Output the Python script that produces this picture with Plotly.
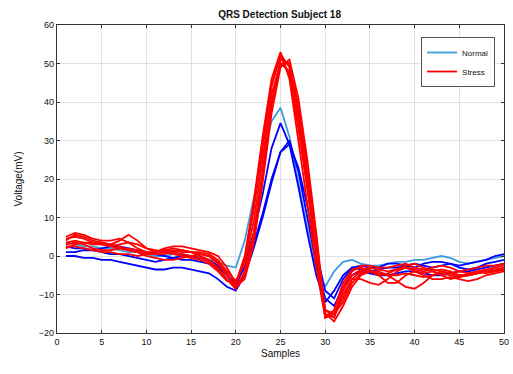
import plotly.graph_objects as go

samples = list(range(1, 51))

normal_1 = [3.5, 3.0, 2.5, 2.5, 2.0, 2.0, 1.5, 1.0, 1.0, 0.5,
            0.0, 0.0, 0.5, 0.5, 0.0, -0.5, -1.0, -1.5, -2.5, -3.0,
            4, 15, 26, 35, 38.5, 31, 19, 7, -3, -8,
            -4, -1.5, -1.0, -2.0, -2.5, -2.5, -2.0, -1.5, -1.5, -1.0,
            -1.0, -0.5, 0.0, -0.5, -1.5, -2.0, -1.5, -1.0, -0.5, 0.0]
normal_2 = [1.0, 1.0, 1.5, 1.5, 1.0, 0.5, 0.5, 0.0, -0.5, -1.0,
            -1.5, -1.0, -0.5, 0.0, 0.0, -0.5, -1.0, -2.5, -5.0, -8.0,
            -2, 6, 16, 28, 34.5, 29, 18, 6, -5, -12,
            -9, -5, -3, -3.5, -4, -3.5, -3, -3, -2.5, -2,
            -2.5, -3, -2.5, -2, -3, -3.5, -3, -2, -1.5, -1]
normal_3 = [0.0, 0.0, -0.5, -0.5, -1.0, -1.0, -1.5, -2.0, -2.5, -3.0,
            -3.5, -3.5, -3.0, -3.0, -3.5, -4.0, -4.5, -6.0, -8.0, -9.0,
            -5, 2, 10, 19, 27, 30, 22, 10, -2, -11,
            -13, -8, -5, -4, -4.5, -5, -5, -4.5, -4, -4,
            -4.5, -5, -5, -4.5, -4, -4, -3.5, -3, -2.5, -2]
normal_4 = [2.5, 2.0, 2.0, 1.5, 2.0, 2.5, 2.5, 2.0, 1.5, 1.0,
            0.5, 0.0, -0.5, -1.0, -1.0, -1.5, -2.0, -3.0, -5.0, -7.0,
            -3, 3, 11, 20, 27, 29, 23, 13, 1, -9,
            -11, -6, -3, -2.5, -3, -3, -2, -2, -2.5, -3,
            -2, -1.5, -1.5, -2, -2.5, -2, -1.5, -1, 0, 0.5]

stress_1 = [4.0, 5.5, 5.0, 4.0, 3.5, 3.0, 4.0, 5.5, 4.0, 2.0,
            1.0, 1.5, 2.0, 1.5, 1.0, 0.5, 0.0, -2.0, -5.0, -7.5,
            -1, 12, 28, 44, 52, 47, 33, 17, 1, -14,
            -15, -9, -5, -3.5, -3, -3.5, -4, -3.5, -3, -4,
            -4.5, -4, -3.5, -4, -5, -5, -4.5, -4, -3.5, -3]
stress_2 = [3.5, 4.0, 3.5, 3.0, 3.0, 2.5, 2.0, 2.0, 1.5, 1.0,
            0.5, 0.5, 1.0, 1.5, 1.0, 0.0, -1.0, -3.0, -6.0, -8.5,
            -4, 6, 22, 40, 51, 50, 38, 22, 4, -16,
            -15, -11, -6, -4, -3.5, -5, -7, -7, -5, -4,
            -5, -6, -6, -5.5, -6, -6.5, -6, -5, -4.5, -4]
stress_3 = [2.0, 3.0, 3.5, 3.5, 3.0, 2.5, 3.0, 3.5, 3.0, 2.0,
            1.5, 1.0, 0.5, 0.0, -0.5, -1.0, -2.0, -4.0, -6.5, -7.0,
            0, 14, 31, 46, 53, 46, 30, 13, -3, -16,
            -14, -7, -3.5, -3, -4, -5, -4.5, -3.5, -2.5, -2,
            -3, -4, -5, -6, -5.5, -4.5, -4, -4.5, -4, -3.5]
stress_4 = [4.5, 5.0, 4.5, 3.5, 3.5, 3.0, 2.5, 1.5, 1.0, 0.5,
            0.5, 1.0, 1.5, 1.0, 1.0, 1.0, 0.5, -1.0, -4.0, -6.5,
            -2, 9, 25, 42, 50, 48, 36, 20, 2, -14,
            -16, -10, -6, -6, -7, -7.5, -6, -4, -3, -3.5,
            -4, -3.5, -4, -4.5, -4, -3.5, -3, -2.5, -2.5, -2]
stress_5 = [3.0, 3.5, 3.0, 2.0, 1.5, 1.5, 2.0, 1.5, 1.0, 0.0,
            -0.5, -1.0, -1.0, -0.5, 0.0, 0.5, 0.0, -1.5, -4.5, -8.0,
            -6, 3, 19, 37, 49, 51, 41, 25, 6, -15,
            -17, -13, -8, -5, -4, -4, -5, -6.5, -8, -8.5,
            -7, -5, -4, -4.5, -5, -5, -4.5, -4, -3.5, -3.5]
stress_6 = [5.0, 6.0, 5.5, 4.5, 4.0, 4.0, 4.5, 3.5, 2.0, 1.0,
            1.0, 2.0, 2.5, 2.5, 2.0, 1.5, 1.0, 0.0, -3.0, -7.0,
            -1, 13, 30, 45, 52.5, 49, 35, 18, 0, -15,
            -16, -8, -4, -2.5, -2.5, -3, -3, -2.5, -2, -3,
            -3.5, -3, -2.5, -3, -4, -4.5, -4, -3.5, -3, -2.5]
stress_7 = [2.5, 2.5, 2.0, 1.5, 1.0, 1.0, 0.5, 0.5, 0.0, 0.5,
            1.0, 1.5, 1.0, 0.5, 0.0, -0.5, -1.5, -3.5, -6.0, -8.5,
            -5, 5, 21, 39, 50, 50, 39, 23, 5, -16,
            -15, -12, -7, -4.5, -4, -4.5, -5, -5, -4.5, -5,
            -5.5, -5, -4.5, -5, -5.5, -5, -4.5, -4, -4, -3.5]

normal_series = [normal_1, normal_2, normal_3, normal_4]
normal_colors = ["#3d9be0", "#0000ff", "#0000ff", "#0000ff"]
stress_series = [stress_1, stress_2, stress_3, stress_4, stress_5, stress_6, stress_7]

fig = go.Figure()
for i, (ys, col) in enumerate(zip(normal_series, normal_colors)):
    fig.add_trace(go.Scatter(x=samples, y=ys, mode="lines", name="Normal",
                             legendgroup="normal", showlegend=(i == 0),
                             line=dict(color=col, width=1.8)))
for i, ys in enumerate(stress_series):
    fig.add_trace(go.Scatter(x=samples, y=ys, mode="lines", name="Stress",
                             legendgroup="stress", showlegend=(i == 0),
                             line=dict(color="#ff0000", width=1.8)))

axis_common = dict(showline=True, mirror="allticks", linecolor="#333333", linewidth=1.2,
                   ticks="inside", ticklen=3, tickcolor="#333333",
                   showgrid=True, gridcolor="#e0e0e0", gridwidth=1, zeroline=False,
                   ticklabeloverflow="allow",
                   tickfont=dict(family="Liberation Sans", size=9, color="#111111"))

fig.update_layout(
    width=513, height=374,
    margin=dict(l=57, r=4, t=25, b=41),
    paper_bgcolor="white", plot_bgcolor="white",
    title=dict(text="<b>QRS Detection Subject 18</b>", x=0.545, xanchor="center",
               y=1 - 14 / 374, yref="container", yanchor="middle",
               font=dict(family="Liberation Sans", size=10, color="#111111")),
    xaxis=dict(range=[0, 50], dtick=5, tick0=0,
               title=dict(text="Samples", standoff=4,
                          font=dict(family="Liberation Sans", size=10, color="#111111")),
               **axis_common),
    yaxis=dict(range=[-20, 60], dtick=10, tick0=0,
               title=dict(text="Voltage(mV)", standoff=14,
                          font=dict(family="Liberation Sans", size=10, color="#111111")),
               **axis_common),
    legend=dict(x=0.98, xanchor="right", y=0.961, yanchor="top",
                bgcolor="white", bordercolor="#555555", borderwidth=1,
                font=dict(family="Liberation Sans", size=8, color="#111111"),
                tracegroupgap=0, itemwidth=30),
    showlegend=True,
)

fig.write_html("out.html")
